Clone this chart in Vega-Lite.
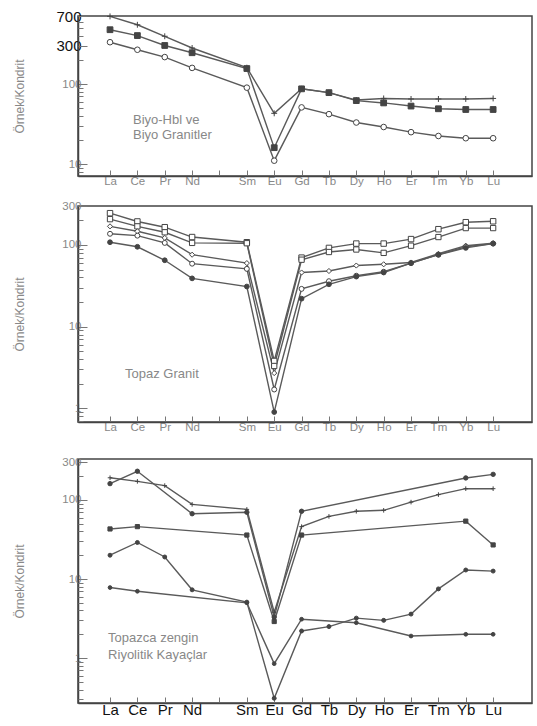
{
  "$schema": "https://vega.github.io/schema/vega-lite/v6.json",
  "background": "white",
  "padding": {"left": 12, "top": 8, "right": 2, "bottom": 2},
  "config": {
    "font": "Liberation Sans",
    "view": {"stroke": "#444", "strokeWidth": 1.5},
    "axis": {"grid": false, "domainColor": "#444", "domainWidth": 1.5, "tickColor": "#777", "labelFont": "Liberation Sans", "titleFont": "Liberation Sans", "labelOverlap": false, "labelBound": false, "labelFlush": false},
    "legend": {"disable": true}
  },
  "datasets": {
    "ree": [
      {"p":1,"s":"A1","el":"La","z":57,"v":700},{"p":1,"s":"A1","el":"Ce","z":58,"v":550},{"p":1,"s":"A1","el":"Pr","z":59,"v":395},{"p":1,"s":"A1","el":"Nd","z":60,"v":282},{"p":1,"s":"A1","el":"Sm","z":62,"v":160},{"p":1,"s":"A1","el":"Eu","z":63,"v":43},{"p":1,"s":"A1","el":"Gd","z":64,"v":87},{"p":1,"s":"A1","el":"Tb","z":65,"v":78},{"p":1,"s":"A1","el":"Dy","z":66,"v":63},{"p":1,"s":"A1","el":"Ho","z":67,"v":66},{"p":1,"s":"A1","el":"Er","z":68,"v":65},{"p":1,"s":"A1","el":"Tm","z":69,"v":65},{"p":1,"s":"A1","el":"Yb","z":70,"v":65},{"p":1,"s":"A1","el":"Lu","z":71,"v":66},
      {"p":1,"s":"A2","el":"La","z":57,"v":477},{"p":1,"s":"A2","el":"Ce","z":58,"v":403},{"p":1,"s":"A2","el":"Pr","z":59,"v":303},{"p":1,"s":"A2","el":"Nd","z":60,"v":246},{"p":1,"s":"A2","el":"Sm","z":62,"v":156},{"p":1,"s":"A2","el":"Eu","z":63,"v":16},{"p":1,"s":"A2","el":"Gd","z":64,"v":87},{"p":1,"s":"A2","el":"Tb","z":65,"v":78},{"p":1,"s":"A2","el":"Dy","z":66,"v":62},{"p":1,"s":"A2","el":"Ho","z":67,"v":58},{"p":1,"s":"A2","el":"Er","z":68,"v":53},{"p":1,"s":"A2","el":"Tm","z":69,"v":49},{"p":1,"s":"A2","el":"Yb","z":70,"v":48},{"p":1,"s":"A2","el":"Lu","z":71,"v":48},
      {"p":1,"s":"A3","el":"La","z":57,"v":333},{"p":1,"s":"A3","el":"Ce","z":58,"v":268},{"p":1,"s":"A3","el":"Pr","z":59,"v":217},{"p":1,"s":"A3","el":"Nd","z":60,"v":159},{"p":1,"s":"A3","el":"Sm","z":62,"v":90},{"p":1,"s":"A3","el":"Eu","z":63,"v":11},{"p":1,"s":"A3","el":"Gd","z":64,"v":51},{"p":1,"s":"A3","el":"Tb","z":65,"v":42},{"p":1,"s":"A3","el":"Dy","z":66,"v":33},{"p":1,"s":"A3","el":"Ho","z":67,"v":29},{"p":1,"s":"A3","el":"Er","z":68,"v":25},{"p":1,"s":"A3","el":"Tm","z":69,"v":22.4},{"p":1,"s":"A3","el":"Yb","z":70,"v":21},{"p":1,"s":"A3","el":"Lu","z":71,"v":21},
      {"p":2,"s":"B1","el":"La","z":57,"v":245},{"p":2,"s":"B1","el":"Ce","z":58,"v":194},{"p":2,"s":"B1","el":"Pr","z":59,"v":165},{"p":2,"s":"B1","el":"Nd","z":60,"v":125},{"p":2,"s":"B1","el":"Sm","z":62,"v":108},{"p":2,"s":"B1","el":"Eu","z":63,"v":3.8},{"p":2,"s":"B1","el":"Gd","z":64,"v":70},{"p":2,"s":"B1","el":"Tb","z":65,"v":92},{"p":2,"s":"B1","el":"Dy","z":66,"v":104},{"p":2,"s":"B1","el":"Ho","z":67,"v":104},{"p":2,"s":"B1","el":"Er","z":68,"v":118},{"p":2,"s":"B1","el":"Tm","z":69,"v":156},{"p":2,"s":"B1","el":"Yb","z":70,"v":190},{"p":2,"s":"B1","el":"Lu","z":71,"v":195},
      {"p":2,"s":"B2","el":"La","z":57,"v":207},{"p":2,"s":"B2","el":"Ce","z":58,"v":169},{"p":2,"s":"B2","el":"Pr","z":59,"v":143},{"p":2,"s":"B2","el":"Nd","z":60,"v":106},{"p":2,"s":"B2","el":"Sm","z":62,"v":105},{"p":2,"s":"B2","el":"Eu","z":63,"v":3.3},{"p":2,"s":"B2","el":"Gd","z":64,"v":66},{"p":2,"s":"B2","el":"Tb","z":65,"v":82},{"p":2,"s":"B2","el":"Dy","z":66,"v":88},{"p":2,"s":"B2","el":"Ho","z":67,"v":80},{"p":2,"s":"B2","el":"Er","z":68,"v":98},{"p":2,"s":"B2","el":"Tm","z":69,"v":125},{"p":2,"s":"B2","el":"Yb","z":70,"v":161},{"p":2,"s":"B2","el":"Lu","z":71,"v":161},
      {"p":2,"s":"B3","el":"La","z":57,"v":169},{"p":2,"s":"B3","el":"Ce","z":58,"v":147},{"p":2,"s":"B3","el":"Pr","z":59,"v":122},{"p":2,"s":"B3","el":"Nd","z":60,"v":76},{"p":2,"s":"B3","el":"Sm","z":62,"v":60},{"p":2,"s":"B3","el":"Eu","z":63,"v":2.7},{"p":2,"s":"B3","el":"Gd","z":64,"v":46},{"p":2,"s":"B3","el":"Tb","z":65,"v":48},{"p":2,"s":"B3","el":"Dy","z":66,"v":56},{"p":2,"s":"B3","el":"Ho","z":67,"v":58},{"p":2,"s":"B3","el":"Er","z":68,"v":61},{"p":2,"s":"B3","el":"Tm","z":69,"v":78},{"p":2,"s":"B3","el":"Yb","z":70,"v":98},{"p":2,"s":"B3","el":"Lu","z":71,"v":105},
      {"p":2,"s":"B4","el":"La","z":57,"v":137},{"p":2,"s":"B4","el":"Ce","z":58,"v":130},{"p":2,"s":"B4","el":"Pr","z":59,"v":106},{"p":2,"s":"B4","el":"Nd","z":60,"v":59},{"p":2,"s":"B4","el":"Sm","z":62,"v":51},{"p":2,"s":"B4","el":"Eu","z":63,"v":1.7},{"p":2,"s":"B4","el":"Gd","z":64,"v":29},{"p":2,"s":"B4","el":"Tb","z":65,"v":36},{"p":2,"s":"B4","el":"Dy","z":66,"v":42},{"p":2,"s":"B4","el":"Ho","z":67,"v":47},{"p":2,"s":"B4","el":"Er","z":68,"v":60},{"p":2,"s":"B4","el":"Tm","z":69,"v":76},{"p":2,"s":"B4","el":"Yb","z":70,"v":95},{"p":2,"s":"B4","el":"Lu","z":71,"v":104},
      {"p":2,"s":"B5","el":"La","z":57,"v":108},{"p":2,"s":"B5","el":"Ce","z":58,"v":95},{"p":2,"s":"B5","el":"Pr","z":59,"v":65},{"p":2,"s":"B5","el":"Nd","z":60,"v":39},{"p":2,"s":"B5","el":"Sm","z":62,"v":31},{"p":2,"s":"B5","el":"Eu","z":63,"v":0.9},{"p":2,"s":"B5","el":"Gd","z":64,"v":22},{"p":2,"s":"B5","el":"Tb","z":65,"v":33},{"p":2,"s":"B5","el":"Dy","z":66,"v":41},{"p":2,"s":"B5","el":"Ho","z":67,"v":46},{"p":2,"s":"B5","el":"Er","z":68,"v":60},{"p":2,"s":"B5","el":"Tm","z":69,"v":76},{"p":2,"s":"B5","el":"Yb","z":70,"v":92},{"p":2,"s":"B5","el":"Lu","z":71,"v":104},
      {"p":3,"s":"C1","el":"La","z":57,"v":191},{"p":3,"s":"C1","el":"Ce","z":58,"v":172},{"p":3,"s":"C1","el":"Pr","z":59,"v":152},{"p":3,"s":"C1","el":"Nd","z":60,"v":88},{"p":3,"s":"C1","el":"Sm","z":62,"v":76},{"p":3,"s":"C1","el":"Eu","z":63,"v":3.8},{"p":3,"s":"C1","el":"Gd","z":64,"v":46},{"p":3,"s":"C1","el":"Tb","z":65,"v":62},{"p":3,"s":"C1","el":"Dy","z":66,"v":72},{"p":3,"s":"C1","el":"Ho","z":67,"v":74},{"p":3,"s":"C1","el":"Er","z":68,"v":94},{"p":3,"s":"C1","el":"Tm","z":69,"v":117},{"p":3,"s":"C1","el":"Yb","z":70,"v":139},{"p":3,"s":"C1","el":"Lu","z":71,"v":139},
      {"p":3,"s":"C2","el":"La","z":57,"v":161},{"p":3,"s":"C2","el":"Ce","z":58,"v":231},{"p":3,"s":"C2","el":"Nd","z":60,"v":67},{"p":3,"s":"C2","el":"Sm","z":62,"v":70},{"p":3,"s":"C2","el":"Eu","z":63,"v":3.3},{"p":3,"s":"C2","el":"Gd","z":64,"v":72},{"p":3,"s":"C2","el":"Yb","z":70,"v":190},{"p":3,"s":"C2","el":"Lu","z":71,"v":211},
      {"p":3,"s":"C3","el":"La","z":57,"v":43},{"p":3,"s":"C3","el":"Ce","z":58,"v":46},{"p":3,"s":"C3","el":"Sm","z":62,"v":36},{"p":3,"s":"C3","el":"Eu","z":63,"v":2.9},{"p":3,"s":"C3","el":"Gd","z":64,"v":36},{"p":3,"s":"C3","el":"Yb","z":70,"v":54},{"p":3,"s":"C3","el":"Lu","z":71,"v":27},
      {"p":3,"s":"C4","el":"La","z":57,"v":20},{"p":3,"s":"C4","el":"Ce","z":58,"v":29},{"p":3,"s":"C4","el":"Pr","z":59,"v":19},{"p":3,"s":"C4","el":"Nd","z":60,"v":7.3},{"p":3,"s":"C4","el":"Sm","z":62,"v":5.1},{"p":3,"s":"C4","el":"Eu","z":63,"v":0.31},{"p":3,"s":"C4","el":"Gd","z":64,"v":2.2},{"p":3,"s":"C4","el":"Tb","z":65,"v":2.5},{"p":3,"s":"C4","el":"Dy","z":66,"v":3.2},{"p":3,"s":"C4","el":"Ho","z":67,"v":3.0},{"p":3,"s":"C4","el":"Er","z":68,"v":3.6},{"p":3,"s":"C4","el":"Tm","z":69,"v":7.5},{"p":3,"s":"C4","el":"Yb","z":70,"v":13},{"p":3,"s":"C4","el":"Lu","z":71,"v":12.6},
      {"p":3,"s":"C5","el":"La","z":57,"v":7.8},{"p":3,"s":"C5","el":"Ce","z":58,"v":7.0},{"p":3,"s":"C5","el":"Sm","z":62,"v":5.0},{"p":3,"s":"C5","el":"Eu","z":63,"v":0.85},{"p":3,"s":"C5","el":"Gd","z":64,"v":3.1},{"p":3,"s":"C5","el":"Dy","z":66,"v":2.8},{"p":3,"s":"C5","el":"Er","z":68,"v":1.9},{"p":3,"s":"C5","el":"Yb","z":70,"v":2.0},{"p":3,"s":"C5","el":"Lu","z":71,"v":2.0}
    ]
  },
  "bounds": "flush",
  "spacing": 30,
  "vconcat": [
    {
      "width": 454, "height": 160,
      "resolve": {"axis": {"x": "independent", "y": "independent"}},
      "layer": [
        {
          "data": {"name": "ree"},
          "transform": [{"filter": "datum.p == 1"}],
          "mark": {"type": "line", "color": "#5a5a5a", "strokeWidth": 1.4},
          "encoding": {
            "x": {"field": "z", "type": "quantitative", "scale": {"domain": [55.83, 72.42], "nice": false, "zero": false},
              "axis": {"values": [57,58,59,60,61,62,63,64,65,66,67,68,69,70,71], "labelExpr": "['La','Ce','Pr','Nd','','Sm','Eu','Gd','Tb','Dy','Ho','Er','Tm','Yb','Lu'][datum.value-57]", "labelOverlap": false, "tickSize": -6, "labelColor": "#888", "labelFontSize": 11.5, "labelPadding": 5, "title": null}},
            "y": {"field": "v", "type": "quantitative", "scale": {"type": "log", "domain": [7.08, 708], "nice": false},
              "axis": {"values": [10,100,300,700],
                "labelExpr": "format(datum.value,'d')",
                "labelOverlap": false,
                "labelColor": {"condition": {"test": "datum.value >= 300", "value": "#111"}, "value": "#888"},
                "labelFontSize": {"condition": {"test": "datum.value >= 300", "value": 15}, "value": 11.5},
                "tickSize": -9,
                "labelPadding": 6,
                "title": "Örnek/Kondrit", "titleColor": "#888", "titleFontSize": 12, "titleFontWeight": "normal", "titleX": -52, "titleY": 80}},
            "detail": {"field": "s"}
          }
        },
        {
          "data": {"name": "ree"},
          "transform": [{"filter": "datum.p == 1"}],
          "mark": {"type": "point", "stroke": "#444", "strokeWidth": 1, "opacity": 1},
          "encoding": {
            "x": {"field": "z", "type": "quantitative", "axis": null},
            "y": {"field": "v", "type": "quantitative", "axis": {"orient": "left", "values": [8,9,20,30,40,50,60,70,80,90,200,300,400,500,600,700], "labels": false, "domain": false, "tickSize": -5, "title": null}},
            "shape": {"field": "s", "scale": {"domain": ["A1","A2","A3","B1","B2","B3","B4","B5","C1","C2","C3","C4","C5"], "range": ["M-1,0L1,0M0,-1L0,1","square","circle","square","square","diamond","circle","circle","M-1,0L1,0M0,-1L0,1","circle","square","circle","circle"]}},
            "fill": {"field": "s", "scale": {"domain": ["A1","A2","A3","B1","B2","B3","B4","B5","C1","C2","C3","C4","C5"], "range": ["#444","#444","white","white","white","white","white","#444","#444","#444","#444","#444","#444"]}},
            "size": {"field": "s", "scale": {"domain": ["A1","A2","A3","B1","B2","B3","B4","B5","C1","C2","C3","C4","C5"], "range": [35,14,24,26,26,26,22,24,35,40,40,14,14]}}
          }
        },
        {
          "data": {"values": [{}]},
          "mark": {"type": "text", "align": "left", "baseline": "top", "font": "Liberation Sans", "fontSize": 13, "color": "#888", "lineHeight": 15},
          "encoding": {
            "x": {"datum": 57.84, "axis": null},
            "y": {"datum": 42, "axis": null},
            "text": {"value": ["Biyo-Hbl ve", "Biyo Granitler"]}
          }
        }
      ]
    },
    {
      "bounds": "flush",
      "spacing": 37,
      "vconcat": [
        {
          "width": 454, "height": 216,
          "resolve": {"axis": {"x": "independent", "y": "independent"}},
          "layer": [
            {
              "data": {"name": "ree"},
              "transform": [{"filter": "datum.p == 2"}],
              "mark": {"type": "line", "color": "#5a5a5a", "strokeWidth": 1.4},
              "encoding": {
                "x": {"field": "z", "type": "quantitative", "scale": {"domain": [55.83, 72.42], "nice": false, "zero": false},
                  "axis": {"values": [57,58,59,60,61,62,63,64,65,66,67,68,69,70,71], "labelExpr": "['La','Ce','Pr','Nd','','Sm','Eu','Gd','Tb','Dy','Ho','Er','Tm','Yb','Lu'][datum.value-57]", "labelOverlap": false, "tickSize": -6, "labelColor": "#888", "labelFontSize": 11.5, "labelPadding": 5, "title": null}},
                "y": {"field": "v", "type": "quantitative", "scale": {"type": "log", "domain": [0.68, 300], "nice": false},
                  "axis": {"values": [1,10,100,300],
                    "labelExpr": "format(datum.value,'d')",
                    "labelOverlap": false,
                    "labelColor": "#888", "labelFontSize": 11.5,
                    "tickSize": -9,
                    "labelPadding": 6,
                    "title": "Örnek/Kondrit", "titleColor": "#888", "titleFontSize": 12, "titleFontWeight": "normal", "titleX": -52, "titleY": 108}},
                "detail": {"field": "s"}
              }
            },
            {
              "data": {"name": "ree"},
              "transform": [{"filter": "datum.p == 2"}],
              "mark": {"type": "point", "stroke": "#444", "strokeWidth": 1, "opacity": 1},
              "encoding": {
                "x": {"field": "z", "type": "quantitative", "axis": null},
                "y": {"field": "v", "type": "quantitative", "axis": {"orient": "left", "values": [0.7,0.8,0.9,2,3,4,5,6,7,8,9,20,30,40,50,60,70,80,90,200,300], "labels": false, "domain": false, "tickSize": -5, "title": null}},
                "shape": {"field": "s"},
                "fill": {"field": "s"},
                "size": {"field": "s"}
              }
            },
            {
              "data": {"values": [{}]},
              "mark": {"type": "text", "align": "left", "baseline": "middle", "font": "Liberation Sans", "fontSize": 13, "color": "#888"},
              "encoding": {
                "x": {"datum": 57.55, "axis": null},
                "y": {"datum": 2.6, "axis": null},
                "text": {"value": "Topaz Granit"}
              }
            }
          ]
        },
        {
          "width": 454, "height": 244,
          "resolve": {"axis": {"x": "independent", "y": "independent"}},
          "layer": [
            {
              "data": {"name": "ree"},
              "transform": [{"filter": "datum.p == 3"}],
              "mark": {"type": "line", "color": "#5a5a5a", "strokeWidth": 1.4},
              "encoding": {
                "x": {"field": "z", "type": "quantitative", "scale": {"domain": [55.83, 72.42], "nice": false, "zero": false},
                  "axis": {"values": [57,58,59,60,61,62,63,64,65,66,67,68,69,70,71], "labelExpr": "['La','Ce','Pr','Nd','','Sm','Eu','Gd','Tb','Dy','Ho','Er','Tm','Yb','Lu'][datum.value-57]", "labelOverlap": false, "tickSize": -6, "labelColor": "#111", "labelFontSize": 15, "labelPadding": 5, "title": null}},
                "y": {"field": "v", "type": "quantitative", "scale": {"type": "log", "domain": [0.27, 330], "nice": false},
                  "axis": {"values": [1,10,100,300],
                    "labelExpr": "format(datum.value,'d')",
                    "labelOverlap": false,
                    "labelColor": "#888", "labelFontSize": 11.5,
                    "tickSize": -9,
                    "labelPadding": 6,
                    "title": "Örnek/Kondrit", "titleColor": "#888", "titleFontSize": 12, "titleFontWeight": "normal", "titleX": -52, "titleY": 122}},
                "detail": {"field": "s"}
              }
            },
            {
              "data": {"name": "ree"},
              "transform": [{"filter": "datum.p == 3"}],
              "mark": {"type": "point", "stroke": "#444", "strokeWidth": 1, "opacity": 1},
              "encoding": {
                "x": {"field": "z", "type": "quantitative", "axis": null},
                "y": {"field": "v", "type": "quantitative", "axis": {"orient": "left", "values": [0.3,0.4,0.5,0.6,0.7,0.8,0.9,2,3,4,5,6,7,8,9,20,30,40,50,60,70,80,90,200,300], "labels": false, "domain": false, "tickSize": -5, "title": null}},
                "shape": {"field": "s"},
                "fill": {"field": "s"},
                "size": {"field": "s"}
              }
            },
            {
              "data": {"values": [{}]},
              "mark": {"type": "text", "align": "left", "baseline": "top", "font": "Liberation Sans", "fontSize": 13, "color": "#888", "lineHeight": 17},
              "encoding": {
                "x": {"datum": 56.93, "axis": null},
                "y": {"datum": 2.15, "axis": null},
                "text": {"value": ["Topazca zengin", "Riyolitik Kayaçlar"]}
              }
            }
          ]
        }
      ]
    }
  ]
}
